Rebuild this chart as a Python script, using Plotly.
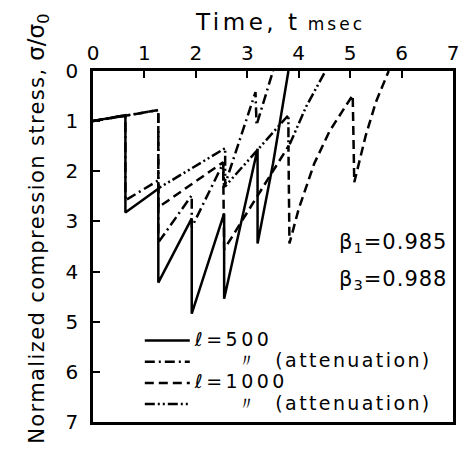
import plotly.graph_objects as go

# ---- data ----
# l = 500 (no attenuation)
t_500 = [0, 0.63, 0.63, 1.27, 1.27, 1.92, 1.92, 2.55, 2.55, 3.2, 3.2, 3.5, 3.8]
s_500 = [1.0, 0.88, 2.82, 2.35, 4.22, 2.94, 4.84, 2.84, 4.54, 1.55, 3.44, 1.85, 0.0]

# l = 500 (attenuation)
t_500a = [0, 0.63, 0.63, 1.27, 1.27, 1.92, 1.92, 2.53, 2.55, 3.16, 3.18, 3.5]
s_500a = [1.0, 0.88, 2.58, 2.18, 3.42, 2.48, 3.12, 1.84, 2.32, 0.42, 1.08, 0.0]

# l = 1000 (no attenuation)
t_1000 = [0, 1.27, 1.27, 2.53, 2.55, 3.8, 3.82, 4.0, 4.3, 4.6, 5.05, 5.08, 5.3, 5.5, 5.75]
s_1000 = [1.0, 0.78, 2.72, 1.82, 3.56, 1.5, 3.44, 2.75, 1.85, 1.2, 0.48, 2.22, 1.3, 0.62, 0.0]

# l = 1000 (attenuation)
t_1000a = [0, 1.27, 1.27, 2.57, 2.57, 3.8, 3.8, 4.15, 4.52]
s_1000a = [1.0, 0.78, 2.34, 1.54, 2.3, 0.88, 1.52, 0.7, 0.0]

NB = "\u00a0"
LS1 = "font-size:19px;letter-spacing:3.5px"
LS2 = "font-size:19px;letter-spacing:2.4px"
names = ["<span style='" + LS1 + "'>ℓ=500</span>",
         "<span style='" + LS2 + "'>" + NB * 5 + "\u3003" + NB * 2 + "(attenuation)</span>",
         "<span style='" + LS1 + "'>ℓ=1000</span>",
         "<span style='" + LS2 + "'>" + NB * 5 + "\u3003" + NB * 2 + "(attenuation)</span>"]
x_ticks = [0, 1, 2, 3, 4, 5, 6, 7]
y_ticks = [0, 1, 2, 3, 4, 5, 6, 7]

FONT = "DejaVu Sans"
fig = go.Figure()
series = [(t_500, s_500, "solid"),
          (t_500a, s_500a, "10px,4px,2px,4px"),
          (t_1000, s_1000, "9px,5px"),
          (t_1000a, s_1000a, "10px,3px,2px,3px,2px,3px")]
for (t, s, dash), nm in zip(series, names):
    fig.add_trace(go.Scatter(x=t, y=s, mode="lines", name=nm,
                             line=dict(color="black", width=2.5, dash=dash)))

fig.update_layout(
    width=452, height=446,
    margin=dict(l=85, r=7, t=63, b=32),
    paper_bgcolor="white", plot_bgcolor="white",
    font=dict(family=FONT, color="black", size=19),
    showlegend=True,
    legend=dict(x=0.955, y=0.006, xanchor="right", yanchor="bottom",
                bgcolor="rgba(0,0,0,0)", font=dict(size=14),
                tracegroupgap=0, itemwidth=45),
    xaxis=dict(range=[0, 7], side="top", tickvals=x_ticks, ticks="inside",
               ticklen=7, tickwidth=2, tickcolor="black", showline=True,
               linewidth=2.5, linecolor="black", mirror=True, showgrid=False,
               zeroline=False, tickfont=dict(size=20), automargin=False),
    yaxis=dict(range=[7, 0], tickvals=y_ticks, ticks="inside",
               ticklen=7, tickwidth=2, tickcolor="black", showline=True,
               linewidth=2.5, linecolor="black", mirror=True, showgrid=False,
               zeroline=False, tickfont=dict(size=20), ticklabelstandoff=8,
               automargin=False),
)
fig.add_annotation(text="<span style='letter-spacing:3.5px'>Time, t</span> "
                        "<span style='font-size:17px;letter-spacing:3px'>msec</span>",
                   xref="paper", yref="paper", x=0.519, y=1.14,
                   showarrow=False, font=dict(size=23), xanchor="center", yanchor="middle")
fig.add_annotation(text="<span style='letter-spacing:1.4px'>Normalized compression stress,</span> "
                        "<span style='font-size:23px'>σ/σ<sub>0</sub></span>",
                   xref="paper", yref="paper", x=-0.153, y=0.55, textangle=-90,
                   showarrow=False, font=dict(size=21), xanchor="center", yanchor="middle")
fig.add_annotation(text="<span style='letter-spacing:1px'>β<sub>1</sub>=0.985</span>",
                   xref="paper", yref="paper",
                   x=0.678, y=0.51, xanchor="left", showarrow=False, font=dict(size=21))
fig.add_annotation(text="<span style='letter-spacing:1px'>β<sub>3</sub>=0.988</span>",
                   xref="paper", yref="paper",
                   x=0.678, y=0.405, xanchor="left", showarrow=False, font=dict(size=21))

fig.write_html("out.html")
